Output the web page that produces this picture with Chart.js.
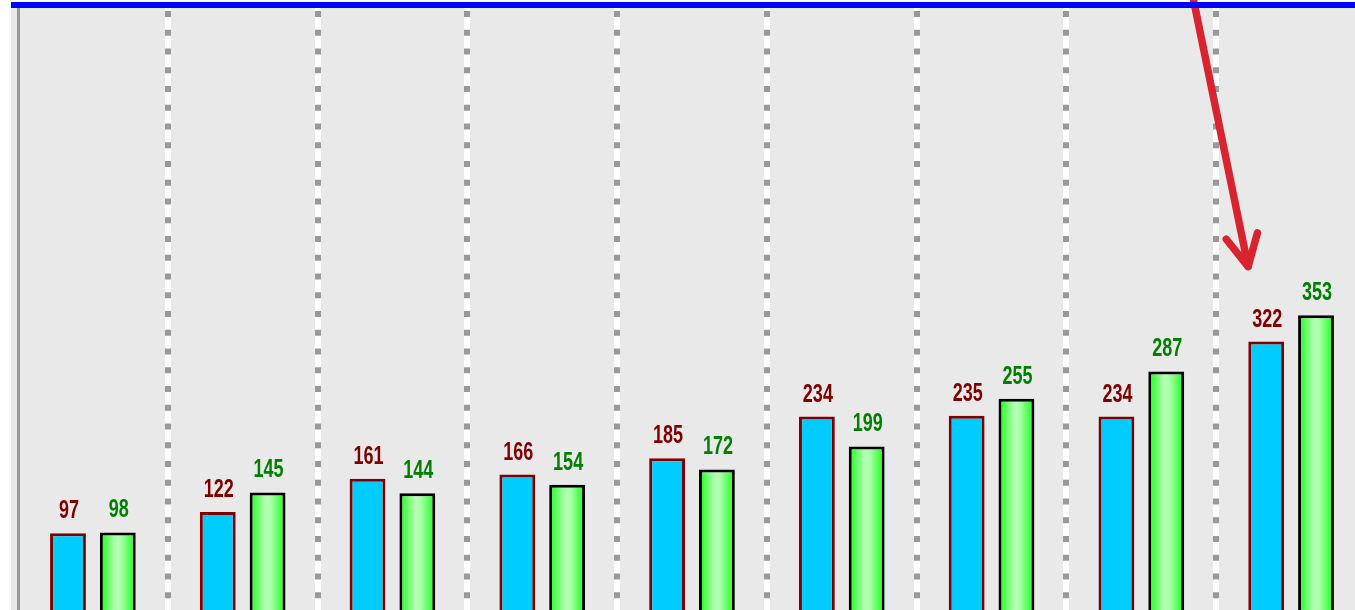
<!DOCTYPE html>
<html>
<head>
<meta charset="utf-8">
<script src="https://cdn.jsdelivr.net/npm/chart.js@4/dist/chart.umd.min.js"></script>
<style>
  html, body { margin: 0; padding: 0; background: #fff; overflow: hidden; }
  #wrap { position: absolute; left: 0; top: 0; width: 1368px; height: 640px; }
</style>
</head>
<body>
<div id="wrap"><canvas id="chart"></canvas></div>
<script>
/* Grouped bars, cropped view: the category axis sits below the visible area. */
var CATEGORIES = ["1", "2", "3", "4", "5", "6", "7", "8", "9"];
var SERIES_A = [97, 122, 161, 166, 185, 234, 235, 234, 322];
var SERIES_B = [98, 145, 144, 154, 172, 199, 255, 287, 353];
var Y_MAX = 717;
// annotation arrow, in [category index, value]
var ARROW_FROM = [7.346, 725];
var ARROW_TO = [7.713, 410];

(function () {
  "use strict";
  var canvas = document.getElementById("chart");
  if (!canvas || typeof Chart === "undefined") return;

  var LABEL_FONT = 'bold 25px "Liberation Sans", Arial, sans-serif';
  var LABEL_SQUEEZE = 0.72;

  var greenFill = function (c) {
    var el = c.element;
    if (!el || typeof el.x !== "number" || !el.width) return "#7dff7d";
    var half = el.width / 2;
    var g = c.chart.ctx.createLinearGradient(el.x - half, 0, el.x + half, 0);
    g.addColorStop(0, "#14ff14");
    g.addColorStop(0.2, "#5cff5c");
    g.addColorStop(0.4, "#a6ffa6");
    g.addColorStop(0.5, "#b6ffb6");
    g.addColorStop(0.6, "#a6ffa6");
    g.addColorStop(0.8, "#5cff5c");
    g.addColorStop(1, "#14ff14");
    return g;
  };

  var frame = {
    id: "frame",
    beforeDraw: function (chart) {
      var ctx = chart.ctx, a = chart.chartArea;
      ctx.save();
      ctx.fillStyle = "#e9e9e9";
      ctx.fillRect(a.left - 7, a.top, chart.width, chart.height);
      ctx.restore();
    },
    afterDraw: function (chart) {
      var ctx = chart.ctx, a = chart.chartArea;
      var xs = chart.scales.x, ys = chart.scales.y;
      var x0 = xs.getPixelForValue(ARROW_FROM[0]), y0 = ys.getPixelForValue(ARROW_FROM[1]);
      var x1 = xs.getPixelForValue(ARROW_TO[0]), y1 = ys.getPixelForValue(ARROW_TO[1]);
      var back = Math.atan2(y0 - y1, x0 - x1);
      var head = 35, spread = 27 * Math.PI / 180;
      ctx.save();
      ctx.strokeStyle = "#d9232e";
      ctx.lineWidth = 7.5;
      ctx.lineCap = "round";
      ctx.lineJoin = "round";
      ctx.beginPath();
      ctx.moveTo(x0, y0);
      ctx.lineTo(x1, y1);
      ctx.moveTo(x1 + head * Math.cos(back - spread), y1 + head * Math.sin(back - spread));
      ctx.lineTo(x1, y1);
      ctx.lineTo(x1 + head * Math.cos(back + spread), y1 + head * Math.sin(back + spread));
      ctx.stroke();
      // blue rule along the top of the plot
      ctx.strokeStyle = "#0000ff";
      ctx.lineWidth = 6;
      ctx.lineCap = "butt";
      ctx.beginPath();
      ctx.moveTo(a.left - 7, a.top);
      ctx.lineTo(chart.width, a.top);
      ctx.stroke();
      ctx.restore();
    }
  };

  var valueLabels = {
    id: "valueLabels",
    afterDatasetsDraw: function (chart) {
      var ctx = chart.ctx;
      chart.data.datasets.forEach(function (ds, i) {
        chart.getDatasetMeta(i).data.forEach(function (bar, j) {
          ctx.save();
          ctx.translate(bar.x + 1, bar.y - 15);
          ctx.scale(LABEL_SQUEEZE, 1);
          ctx.font = LABEL_FONT;
          ctx.textAlign = "center";
          ctx.textBaseline = "alphabetic";
          ctx.fillStyle = ds.labelColor;
          ctx.fillText(String(ds.data[j]), 0, 0);
          ctx.restore();
        });
      });
    }
  };

  var chart = new Chart(canvas, {
    type: "bar",
    data: {
      labels: CATEGORIES,
      datasets: [
        {
          label: "Series A",
          data: SERIES_A,
          backgroundColor: "#00ccff",
          borderColor: "#800000",
          borderWidth: 3,
          labelColor: "#800000",
        },
        {
          label: "Series B",
          data: SERIES_B,
          backgroundColor: greenFill,
          borderColor: "#000000",
          borderWidth: 3,
          labelColor: "#008000",
        },
      ],
    },
    options: {
      responsive: true,
      maintainAspectRatio: false,
      animation: false,
      categoryPercentage: 0.665,
      barPercentage: 0.72,
      layout: { padding: { left: 18, top: 5, right: 2, bottom: 24 } },
      scales: {
        x: {
          offset: true,
          ticks: { display: false },
          border: { display: false },
          grid: {
            offset: true,
            drawTicks: false,
            lineWidth: 6,
            color: function (c) { return c.index === 0 ? "rgba(0,0,0,0)" : "#ffffff"; },
          },
        },
        x2: {
          type: "category",
          labels: CATEGORIES,
          position: "bottom",
          offset: true,
          ticks: { display: false },
          border: { display: false, dash: [6, 12.75], dashOffset: 12.75 },
          grid: {
            offset: true,
            drawTicks: false,
            lineWidth: 6,
            color: function (c) { return c.index === 0 ? "rgba(0,0,0,0)" : "#999999"; },
          },
        },
        y: {
          min: 0,
          max: Y_MAX,
          ticks: { display: false },
          grid: { display: false, drawTicks: false },
          border: { display: true, color: "#999999", width: 3 },
        },
      },
      plugins: {
        legend: { display: false },
        tooltip: { enabled: false },
      },
    },
    plugins: [frame, valueLabels],
  });
  chart.update("none");
})();
</script>
</body>
</html>
